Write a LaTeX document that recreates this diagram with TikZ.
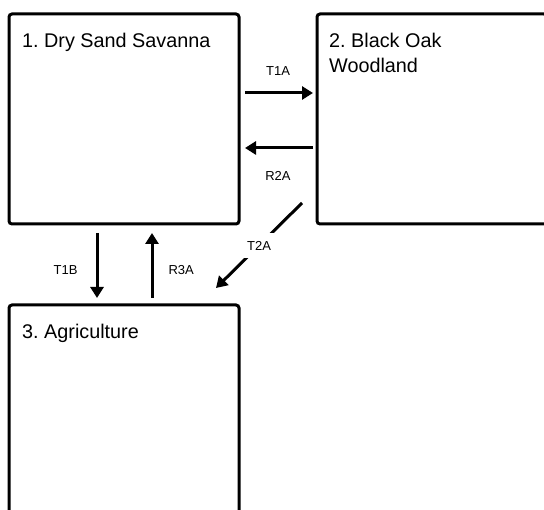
\documentclass[tikz,border=0pt]{standalone}
\usepackage{fontspec}
\setmainfont{Liberation Sans}
\usetikzlibrary{arrows.meta}
\frenchspacing

\begin{document}
\begin{tikzpicture}[x=1pt,y=-1pt,
    statebox/.style={draw, line width=3pt, rounded corners=3pt, minimum width=230pt, minimum height=210pt, inner sep=0pt, outer sep=0pt, anchor=north west},
    statename/.style={anchor=north west, inner sep=0pt, align=left, font=\fontsize{19.8}{25}\selectfont},
    flow/.style={line width=3pt, -{Triangle[length=11pt,width=13pt]}},
    flowlabel/.style={inner sep=2pt, font=\fontsize{13}{15}\selectfont}]
            \useasboundingbox (0,0) rectangle (544,510);
            \clip (0,0) rectangle (544,510);
            % the three states
            \node[statebox] (dry) at (9,14) {};
            \node[statebox] (oak) at (317,14) {};
            \node[statebox] (agri) at (9,305) {};
            \node[statename] (dryname) at (22,33) {1. Dry Sand Savanna};
            \node[statename] (oakname) at (329,33) {2. Black Oak\\Woodland};
            \node[statename] (agriname) at (22,324) {3. Agriculture};
            % transitions
            \draw[flow, shorten <=6pt, shorten >=4pt] ([yshift=-79pt]dry.north east) -- node[flowlabel, above=14pt] {T1A} ([yshift=-79pt]oak.north west);
            \draw[flow, shorten <=4pt, shorten >=6pt] ([yshift=-134pt]oak.north west) -- node[flowlabel, below=20pt] {R2A} ([yshift=-134pt]dry.north east);
            \draw[flow] ([xshift=-15pt,yshift=21pt]oak.south west) -- node[flowlabel, fill=white, inner xsep=4pt, inner ysep=8pt] {T2A} ([xshift=-23pt,yshift=17pt]agri.north east);
            \draw[flow, shorten <=9pt, shorten >=7pt] ([xshift=88pt]dry.south west) -- node[flowlabel, pos=0.57, left=16pt] {T1B} ([xshift=88pt]agri.north west);
            \draw[flow, shorten <=7pt, shorten >=9pt] ([xshift=143pt]agri.north west) -- node[flowlabel, pos=0.43, right=13pt] {R3A} ([xshift=143pt]dry.south west);
        \end{tikzpicture}
\end{document}
